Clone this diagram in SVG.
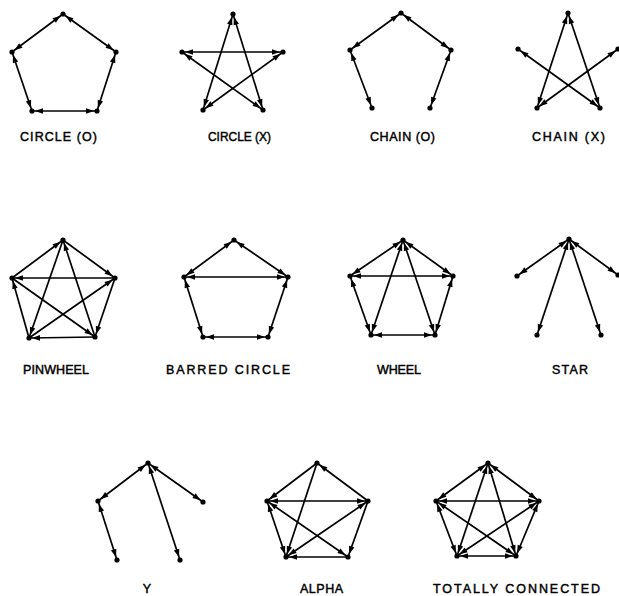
<svg xmlns="http://www.w3.org/2000/svg" width="619" height="596" viewBox="0 0 619 596">
<style>
.e{stroke:#000;stroke-width:1.7;fill:none}
.b{marker-start:url(#ah);marker-end:url(#ah)}
.o{marker-end:url(#ah)}
.n circle{fill:#000}
text{font-family:"Liberation Sans",Arial,sans-serif;font-size:12.5px;fill:#000;stroke:#000;stroke-width:0.45}
</style>
<defs>
<marker id="ah" markerUnits="userSpaceOnUse" markerWidth="16" markerHeight="10" refX="13" refY="5" orient="auto-start-reverse" overflow="visible"><path d="M2,2.2 L10,5 L2,7.8 z" fill="#000"/></marker>
</defs>
<rect width="619" height="596" fill="#fff"/>

<!-- CIRCLE (O) -->
<g id="circleO-edges" class="e b">
<line x1="63" y1="14" x2="12" y2="52"/><line x1="63" y1="14" x2="116" y2="52"/><line x1="12" y1="52" x2="32" y2="111"/><line x1="116" y1="52" x2="97" y2="111"/><line x1="32" y1="111" x2="97" y2="111"/>
</g>
<g class="n"><g id="circleO-t"><circle cx="63" cy="14" r="2.6"/></g><g id="circleO-l"><circle cx="12" cy="52" r="2.6"/></g><g id="circleO-r"><circle cx="116" cy="52" r="2.6"/></g><g id="circleO-bl"><circle cx="32" cy="111" r="2.6"/></g><g id="circleO-br"><circle cx="97" cy="111" r="2.6"/></g></g>
<text x="20" y="141" textLength="77" lengthAdjust="spacing">CIRCLE (O)</text>

<!-- CIRCLE (X) -->
<g id="circleX-edges" class="e b">
<line x1="233" y1="14" x2="203" y2="110"/><line x1="233" y1="14" x2="263" y2="110"/><line x1="182" y1="52" x2="283" y2="52"/><line x1="182" y1="52" x2="263" y2="110"/><line x1="283" y1="52" x2="203" y2="110"/>
</g>
<g class="n"><g id="circleX-t"><circle cx="233" cy="14" r="2.6"/></g><g id="circleX-l"><circle cx="182" cy="52" r="2.6"/></g><g id="circleX-r"><circle cx="283" cy="52" r="2.6"/></g><g id="circleX-bl"><circle cx="203" cy="110" r="2.6"/></g><g id="circleX-br"><circle cx="263" cy="110" r="2.6"/></g></g>
<text x="208" y="141" textLength="63" lengthAdjust="spacingAndGlyphs">CIRCLE (X)</text>

<!-- CHAIN (O) -->
<g id="chainO-edges" class="e b">
<line x1="401" y1="13" x2="350" y2="50"/><line x1="401" y1="13" x2="451" y2="50"/><line x1="350" y1="50" x2="372" y2="108"/><line x1="451" y1="50" x2="430" y2="108"/>
</g>
<g class="n"><g id="chainO-t"><circle cx="401" cy="13" r="2.6"/></g><g id="chainO-l"><circle cx="350" cy="50" r="2.6"/></g><g id="chainO-r"><circle cx="451" cy="50" r="2.6"/></g><g id="chainO-bl"><circle cx="372" cy="108" r="2.6"/></g><g id="chainO-br"><circle cx="430" cy="108" r="2.6"/></g></g>
<text x="370" y="141" textLength="65" lengthAdjust="spacing">CHAIN (O)</text>

<!-- CHAIN (X) -->
<g id="chainX-edges" class="e b">
<line x1="568" y1="13" x2="537" y2="108"/><line x1="568" y1="13" x2="600" y2="108"/><line x1="518" y1="49" x2="600" y2="108"/><line x1="618" y1="49" x2="537" y2="108"/>
</g>
<g class="n"><g id="chainX-t"><circle cx="568" cy="13" r="2.6"/></g><g id="chainX-l"><circle cx="518" cy="49" r="2.6"/></g><g id="chainX-r"><circle cx="618" cy="49" r="2.6"/></g><g id="chainX-bl"><circle cx="537" cy="108" r="2.6"/></g><g id="chainX-br"><circle cx="600" cy="108" r="2.6"/></g></g>
<text x="532" y="141" textLength="73" lengthAdjust="spacing">CHAIN (X)</text>

<!-- PINWHEEL -->
<g id="pinwheel-edges" class="e o">
<line x1="12" y1="278" x2="63" y2="240"/><line x1="63" y1="240" x2="115" y2="278"/><line x1="63" y1="240" x2="29" y2="338"/><line x1="95" y1="337" x2="63" y2="240"/><line x1="115" y1="278" x2="12" y2="278"/><line x1="29" y1="338" x2="12" y2="278"/><line x1="12" y1="278" x2="95" y2="337"/><line x1="29" y1="338" x2="115" y2="278"/><line x1="115" y1="278" x2="95" y2="337"/><line x1="95" y1="337" x2="29" y2="338"/>
</g>
<g class="n"><g id="pinwheel-t"><circle cx="63" cy="240" r="2.6"/></g><g id="pinwheel-l"><circle cx="12" cy="278" r="2.6"/></g><g id="pinwheel-r"><circle cx="115" cy="278" r="2.6"/></g><g id="pinwheel-bl"><circle cx="29" cy="338" r="2.6"/></g><g id="pinwheel-br"><circle cx="95" cy="337" r="2.6"/></g></g>
<text x="23" y="374" textLength="66" lengthAdjust="spacing">PINWHEEL</text>

<!-- BARRED CIRCLE -->
<g id="barred-edges" class="e b">
<line x1="234" y1="240" x2="184" y2="277"/><line x1="234" y1="240" x2="288" y2="277"/><line x1="184" y1="277" x2="288" y2="277"/><line x1="184" y1="277" x2="203" y2="337"/><line x1="288" y1="277" x2="268" y2="337"/><line x1="203" y1="337" x2="268" y2="337"/>
</g>
<g class="n"><g id="barred-t"><circle cx="234" cy="240" r="2.6"/></g><g id="barred-l"><circle cx="184" cy="277" r="2.6"/></g><g id="barred-r"><circle cx="288" cy="277" r="2.6"/></g><g id="barred-bl"><circle cx="203" cy="337" r="2.6"/></g><g id="barred-br"><circle cx="268" cy="337" r="2.6"/></g></g>
<text x="166" y="374" textLength="124" lengthAdjust="spacing">BARRED  CIRCLE</text>

<!-- WHEEL -->
<g id="wheel-edges" class="e b">
<line x1="403" y1="240" x2="350" y2="276"/><line x1="403" y1="240" x2="453" y2="276"/><line x1="350" y1="276" x2="453" y2="276"/><line x1="350" y1="276" x2="371" y2="335"/><line x1="453" y1="276" x2="435" y2="335"/><line x1="371" y1="335" x2="435" y2="335"/><line x1="403" y1="240" x2="371" y2="335"/><line x1="403" y1="240" x2="435" y2="335"/>
</g>
<g class="n"><g id="wheel-t"><circle cx="403" cy="240" r="2.6"/></g><g id="wheel-l"><circle cx="350" cy="276" r="2.6"/></g><g id="wheel-r"><circle cx="453" cy="276" r="2.6"/></g><g id="wheel-bl"><circle cx="371" cy="335" r="2.6"/></g><g id="wheel-br"><circle cx="435" cy="335" r="2.6"/></g></g>
<text x="377" y="374" textLength="44" lengthAdjust="spacing">WHEEL</text>

<!-- STAR -->
<g id="star-edges" class="e b">
<line x1="569" y1="239" x2="517" y2="276"/><line x1="569" y1="239" x2="618" y2="275"/><line x1="569" y1="239" x2="537" y2="335"/><line x1="569" y1="239" x2="601" y2="335"/>
</g>
<g class="n"><g id="star-t"><circle cx="569" cy="239" r="2.6"/></g><g id="star-l"><circle cx="517" cy="276" r="2.6"/></g><g id="star-r"><circle cx="618" cy="275" r="2.6"/></g><g id="star-bl"><circle cx="537" cy="335" r="2.6"/></g><g id="star-br"><circle cx="601" cy="335" r="2.6"/></g></g>
<text x="552" y="374" textLength="36" lengthAdjust="spacing">STAR</text>

<!-- Y -->
<g id="y-edges" class="e b">
<line x1="148" y1="463" x2="98" y2="501"/><line x1="148" y1="463" x2="203" y2="502"/><line x1="98" y1="501" x2="117" y2="560"/><line x1="148" y1="463" x2="180" y2="560"/>
</g>
<g class="n"><g id="y-t"><circle cx="148" cy="463" r="2.6"/></g><g id="y-l"><circle cx="98" cy="501" r="2.6"/></g><g id="y-r"><circle cx="203" cy="502" r="2.6"/></g><g id="y-bl"><circle cx="117" cy="560" r="2.6"/></g><g id="y-br"><circle cx="180" cy="560" r="2.6"/></g></g>
<text x="147" y="593" text-anchor="middle">Y</text>

<!-- ALPHA -->
<g id="alpha-edges" class="e">
<line class="o" x1="368" y1="501" x2="317" y2="463"/><line class="o" x1="317" y1="463" x2="267" y2="501"/><line class="o" x1="317" y1="463" x2="286" y2="557"/><line class="b" x1="267" y1="501" x2="368" y2="501"/><line class="b" x1="267" y1="501" x2="286" y2="557"/><line class="b" x1="267" y1="501" x2="348" y2="557"/><line class="b" x1="368" y1="501" x2="286" y2="557"/><line class="o" x1="368" y1="501" x2="348" y2="557"/><line class="o" x1="348" y1="557" x2="286" y2="557"/>
</g>
<g class="n"><g id="alpha-t"><circle cx="317" cy="463" r="2.6"/></g><g id="alpha-l"><circle cx="267" cy="501" r="2.6"/></g><g id="alpha-r"><circle cx="368" cy="501" r="2.6"/></g><g id="alpha-bl"><circle cx="286" cy="557" r="2.6"/></g><g id="alpha-br"><circle cx="348" cy="557" r="2.6"/></g></g>
<text x="300" y="593" textLength="43" lengthAdjust="spacing">ALPHA</text>

<!-- TOTALLY CONNECTED -->
<g id="total-edges" class="e b">
<line x1="488" y1="463" x2="436" y2="501"/><line x1="488" y1="463" x2="539" y2="501"/><line x1="488" y1="463" x2="457" y2="556"/><line x1="488" y1="463" x2="516" y2="556"/><line x1="436" y1="501" x2="539" y2="501"/><line x1="436" y1="501" x2="457" y2="556"/><line x1="436" y1="501" x2="516" y2="556"/><line x1="539" y1="501" x2="457" y2="556"/><line x1="539" y1="501" x2="516" y2="556"/><line x1="457" y1="556" x2="516" y2="556"/>
</g>
<g class="n"><g id="total-t"><circle cx="488" cy="463" r="2.6"/></g><g id="total-l"><circle cx="436" cy="501" r="2.6"/></g><g id="total-r"><circle cx="539" cy="501" r="2.6"/></g><g id="total-bl"><circle cx="457" cy="556" r="2.6"/></g><g id="total-br"><circle cx="516" cy="556" r="2.6"/></g></g>
<text x="433" y="593" textLength="167" lengthAdjust="spacing">TOTALLY  CONNECTED</text>
</svg>
